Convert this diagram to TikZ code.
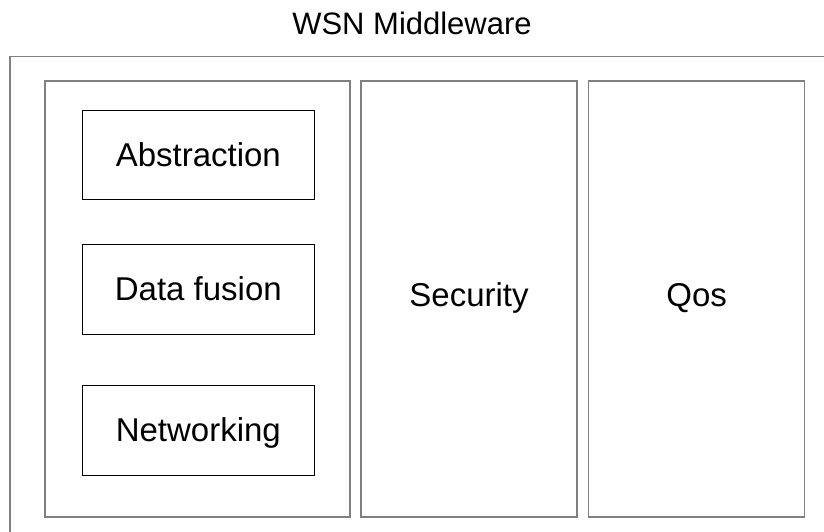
\documentclass[tikz,border=0pt]{standalone}
\usepackage{fontspec}
\setmainfont{Liberation Sans}
\begin{document}
\begin{tikzpicture}[x=1pt,y=-1pt,
  frame/.style={draw=black!50, line width=1.5pt},
  column/.style={frame, rectangle, inner sep=0pt, minimum width=216pt,
    minimum height=436pt, text height=22pt, text depth=7pt},
  layerbox/.style={draw=black, line width=1pt, rectangle, inner sep=0pt,
    minimum width=232pt, minimum height=90pt, text height=22pt, text depth=0pt},
  font=\fontsize{33}{40}\selectfont]
  \useasboundingbox (0,0) rectangle (824,532);
  \clip (0,0) rectangle (824,532);
  % title
  \node[anchor=base, inner sep=0pt, font=\fontsize{31}{38}\selectfont] (title) at (412,34.3) {WSN Middleware};
  % outer frame, running past the right and bottom edges
  \draw[frame] (10,56.7) rectangle (840,550);
  % three columns
  \node[column, minimum width=305pt] (core) at (197.5,299) {};
  \node[column] (security) at (469,299) {Security};
  \node[column] (qos) at (696.7,299) {Qos};
  % layers inside the first column
  \node[layerbox, minimum height=89pt] (abstraction) at (198.3,155.3) {Abstraction};
  \node[layerbox] (fusion) at (198.3,289.5) {Data fusion};
  \node[layerbox] (networking) at (198.3,430) {Networking};
\end{tikzpicture}
\end{document}
